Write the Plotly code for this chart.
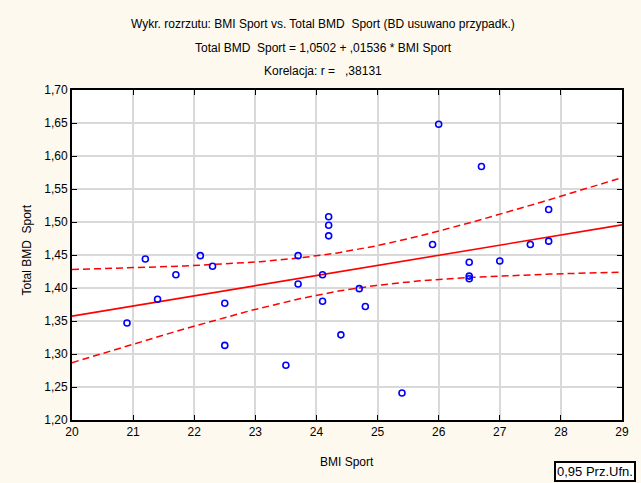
import numpy as np
import plotly.graph_objects as go

# ---- data ----
bmi = [20.9, 21.2, 21.4, 21.7, 22.1, 22.3, 22.5, 22.5,
       23.5, 23.7, 23.7, 24.1, 24.1, 24.2, 24.2, 24.2,
       24.4, 24.7, 24.8, 25.4, 25.9, 26.0, 26.5, 26.5,
       26.5, 26.7, 27.0, 27.5, 27.8, 27.8]
bmd = [1.347, 1.444, 1.383, 1.420, 1.449, 1.433, 1.377, 1.313,
       1.283, 1.449, 1.406, 1.420, 1.380, 1.508, 1.495, 1.479,
       1.329, 1.399, 1.372, 1.241, 1.466, 1.648, 1.439, 1.418,
       1.414, 1.584, 1.441, 1.466, 1.519, 1.471]

intercept = 1.0502
slope = 0.01536
t_crit = 2.0484  # t(0.975, df=28)

x_tick_vals = [20, 21, 22, 23, 24, 25, 26, 27, 28, 29]
y_tick_vals = [1.20, 1.25, 1.30, 1.35, 1.40, 1.45, 1.50, 1.55, 1.60, 1.65, 1.70]

title_lines = [
    "Wykr. rozrzutu: BMI Sport vs. Total BMD\u00a0\u00a0Sport (BD usuwano przypadk.)",
    "Total BMD\u00a0\u00a0Sport = 1,0502 + ,01536 * BMI Sport",
    "Korelacja: r = \u00a0\u00a0,38131",
]

# ---- regression line and 95% confidence band ----
xa = np.array(bmi)
ya = np.array(bmd)
n = len(xa)
resid = ya - (intercept + slope * xa)
s = np.sqrt(np.sum(resid ** 2) / (n - 2))
xbar = xa.mean()
sxx = np.sum((xa - xbar) ** 2)
xs = np.linspace(20, 29, 200)
yhat = intercept + slope * xs
hw = t_crit * s * np.sqrt(1.0 / n + (xs - xbar) ** 2 / sxx)

RED = "#FF0000"
fig = go.Figure()
fig.add_trace(go.Scatter(x=xs, y=yhat + hw, mode="lines",
                         line=dict(color=RED, width=1.5, dash="7px,4px"),
                         hoverinfo="skip", showlegend=False))
fig.add_trace(go.Scatter(x=xs, y=yhat - hw, mode="lines",
                         line=dict(color=RED, width=1.5, dash="7px,4px"),
                         hoverinfo="skip", showlegend=False))
fig.add_trace(go.Scatter(x=xs, y=yhat, mode="lines",
                         line=dict(color=RED, width=1.6),
                         hoverinfo="skip", showlegend=False))
fig.add_trace(go.Scatter(x=bmi, y=bmd, mode="markers",
                         marker=dict(symbol="circle-open", size=6, color="#0000FF",
                                     line=dict(width=1.6, color="#0000FF")),
                         showlegend=False))

FONT = "Liberation Sans, Arial, sans-serif"
axis_common = dict(
    showline=True, linecolor="black", linewidth=2, mirror="ticks",
    ticks="inside", ticklen=5, tickcolor="black", tickwidth=1,
    showgrid=True, gridcolor="#D9D9D9", gridwidth=1.5,
    zeroline=False, tickfont=dict(family=FONT, size=12, color="black"),
)

fig.update_xaxes(range=[20, 29], tickvals=x_tick_vals,
                 ticktext=[str(v) for v in x_tick_vals], **axis_common)
fig.update_yaxes(range=[1.20, 1.70], tickvals=y_tick_vals,
                 ticktext=[f"{v:.2f}".replace(".", ",") for v in y_tick_vals],
                 **axis_common)

annotations = []
for txt, yp in zip(title_lines, [1.20, 1.127, 1.0576]):
    annotations.append(dict(text=txt, xref="paper", yref="paper", x=0.4567, y=yp,
                            xanchor="center", yanchor="middle", showarrow=False,
                            font=dict(family=FONT, size=12, color="black")))
annotations.append(dict(text="Total BMD\u00a0\u00a0Sport", xref="paper", yref="paper",
                        x=-0.081, y=0.515, textangle=-90, xanchor="center",
                        yanchor="middle", showarrow=False,
                        font=dict(family=FONT, size=12, color="black")))
annotations.append(dict(text="BMI Sport", xref="paper", yref="paper",
                        x=0.5, y=-0.127, xanchor="center", yanchor="middle",
                        showarrow=False, font=dict(family=FONT, size=12, color="black")))
annotations.append(dict(text="0,95 Prz.Ufn.", xref="paper", yref="paper",
                        x=0.951, y=-0.155, xanchor="center", yanchor="middle",
                        showarrow=False, bordercolor="black", borderwidth=2,
                        borderpad=1, bgcolor="white",
                        font=dict(family=FONT, size=13, color="black")))

fig.update_layout(
    width=641, height=483,
    margin=dict(l=72, r=15, t=90, b=63),
    paper_bgcolor="#FDF9EE", plot_bgcolor="white",
    annotations=annotations,
    showlegend=False,
)

fig.write_html(
    "out.html",
    config={"displayModeBar": False},
    post_script="document.body.style.margin='0';document.body.style.overflow='hidden';"
                "document.body.style.background='#FDF9EE';",
)
